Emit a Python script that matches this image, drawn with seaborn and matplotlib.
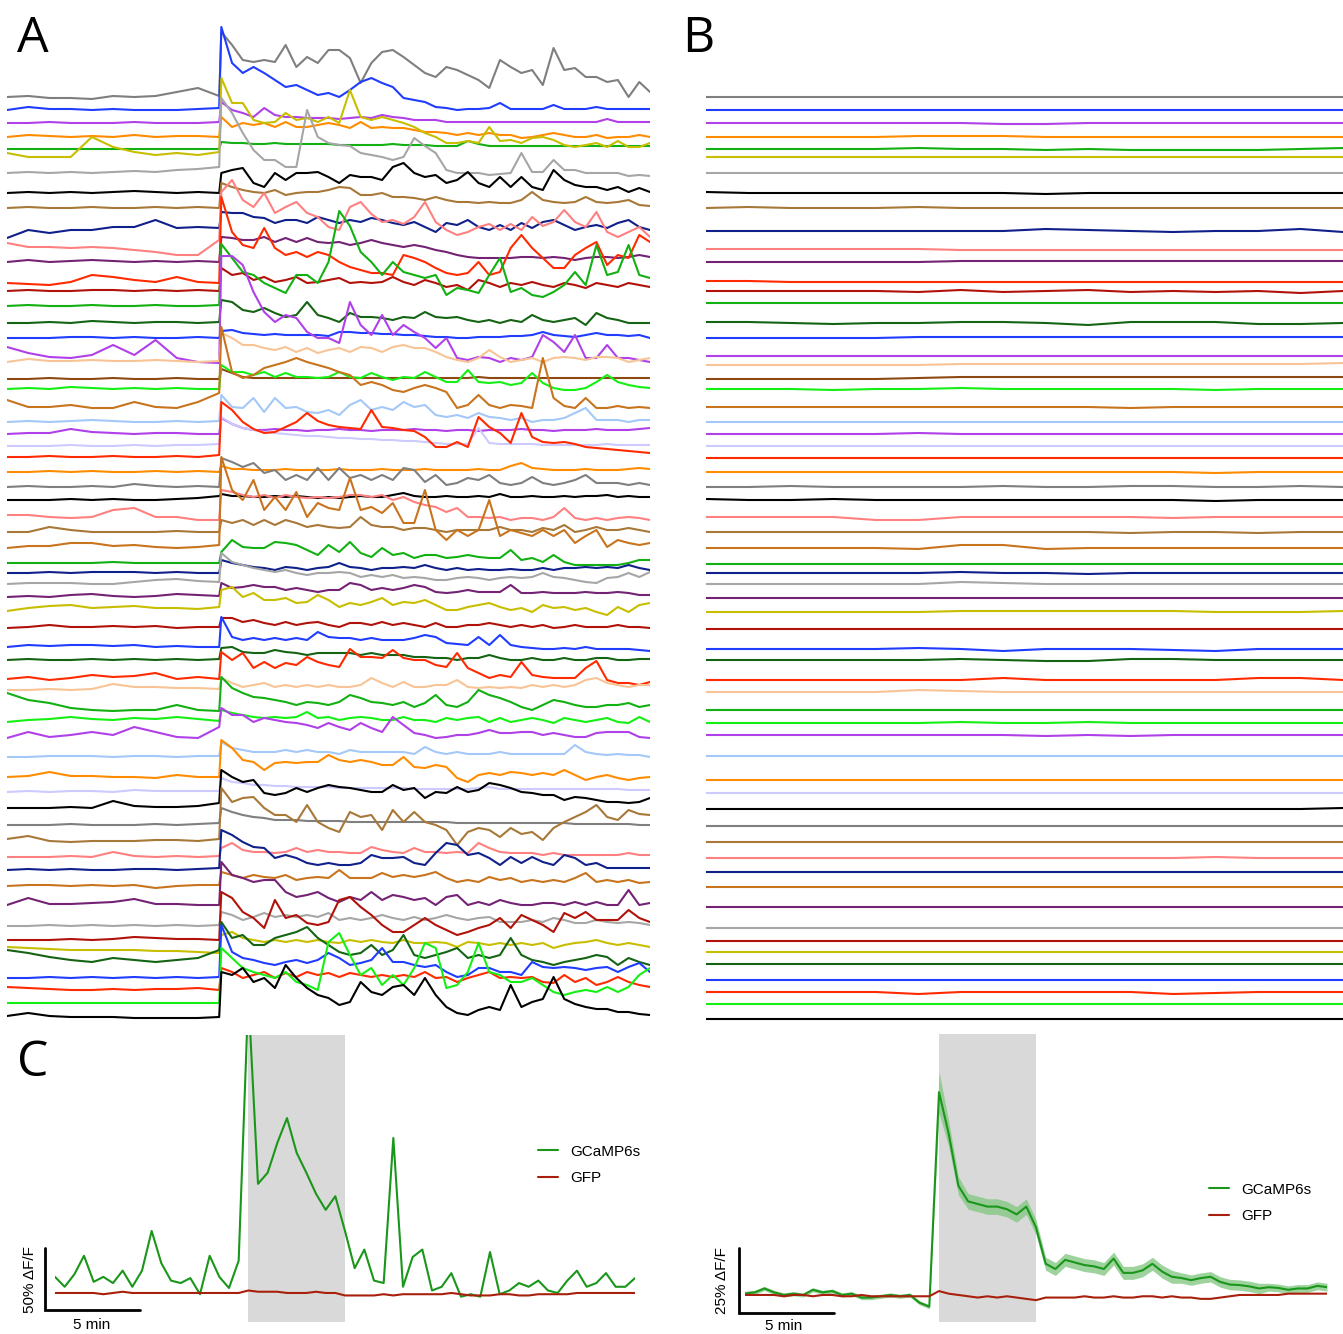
import numpy as np
import pandas as pd
import matplotlib
matplotlib.use('Agg')
import matplotlib.pyplot as plt
import seaborn as sns

sns.set_theme(style='white')
plt.rcParams['font.family'] = ['Liberation Sans', 'DejaVu Sans']
plt.rcParams['text.color'] = 'black'

# colours of the cells
color_hex = {
    'gray': '#7f7f7f', 'blue': '#1f3cff', 'purple': '#b040e8', 'orange': '#ff8c00',
    'green': '#12b012', 'olive': '#c8be00', 'lightgray': '#a6a6a6', 'black': '#000000',
    'tan': '#a87838', 'navy': '#10208a', 'salmon': '#ff8080', 'darkpurple': '#742274',
    'red': '#ff2a00', 'darkred': '#b0120a', 'darkgreen': '#146414', 'peach': '#f8c496',
    'brown': '#8c4a12', 'brightgreen': '#14f014', 'orangebrown': '#c8741e',
    'lightblue': '#a4c8f8', 'lavender': '#cccaff',
}

trace_colors = [
    'gray', 'blue', 'purple', 'orange', 'green', 'olive', 'lightgray', 'black', 'tan', 'navy',
    'salmon', 'darkpurple', 'red', 'darkred', 'green', 'darkgreen', 'blue', 'purple', 'peach', 'brown',
    'brightgreen', 'orangebrown', 'lightblue', 'purple', 'lavender', 'red', 'orange', 'gray', 'black', 'salmon',
    'tan', 'orangebrown', 'green', 'navy', 'lightgray', 'darkpurple', 'olive', 'darkred', 'blue', 'darkgreen',
    'red', 'peach', 'green', 'brightgreen', 'purple', 'lightblue', 'orange', 'lavender', 'black', 'gray',
    'tan', 'salmon', 'navy', 'orangebrown', 'darkpurple', 'lightgray', 'darkred', 'olive', 'darkgreen', 'blue',
    'red', 'brightgreen', 'black',
]

# stacking offset of each cell (same for A and B)
offsets = [928, 915, 902, 888, 876, 868, 852, 832, 817, 794, 773, 763, 741, 734, 719, 702, 687, 669,
           662, 646, 636, 617, 603, 591, 579, 568, 553, 538, 525, 505, 493, 477, 462, 452, 441, 428,
           414, 397, 378, 365, 346, 335, 314, 303, 287, 268, 247, 233, 217, 200, 183, 168, 155, 139,
           119, 99, 85, 75, 63, 47, 35, 22, 8]

# A: baseline part, 0-10 min, one value per minute
pre_dff = [
    [0, 1, -1, -1, -2, 1, 0, 1, 5, 9, 1],
    [0, 3, 1, 1, 0, 1, 0, 0, 0, 1, 2],
    [0, 0, 1, 0, 0, 0, 1, 0, 0, 0, 1],
    [0, 2, 1, 0, 1, 0, 2, 0, 1, 1, 0],
    [0, 0, 0, 0, 0, 0, 0, 0, 0, 0, 0],
    [4, 0, 0, 0, 20, 10, 5, 2, 4, 2, 5],
    [0, 1, 0, 1, 0, 1, 2, 1, 3, 4, 6],
    [0, 1, 0, 1, 0, 1, 2, 1, 0, 1, 0],
    [0, 1, 0, 0, 1, 0, 0, 1, 0, 1, 0],
    [-7, 1, -2, 1, 1, 4, 4, 11, 3, 4, 3],
    [9, 5, 5, 4, 5, 4, 2, 0, -3, -3, 12],
    [0, 2, 0, 1, 2, 1, 0, 1, 0, 1, 0],
    [1, 0, -1, 2, 9, 7, 4, 2, 7, 2, 1],
    [0, 1, 0, 0, 1, 1, 0, 1, 0, 1, 0],
    [0, 1, 0, 0, 1, 0, 0, 1, 0, 0, 1],
    [0, 0, 1, 0, 2, 1, 0, 1, 1, 0, 1],
    [0, 0, 0, 1, 1, 0, 1, 0, 0, 1, 0],
    [9, 3, -1, -2, 1, 11, 1, 16, -2, -6, -7],
    [1, 4, 2, 2, 3, 2, 2, 3, 2, 1, 2],
    [0, 0, 1, 0, 0, 1, 0, 0, 1, 0, 0],
    [0, 1, 0, 2, 1, 0, 1, 0, 1, 0, 0],
    [8, 1, 1, 3, 0, 0, 6, 1, 0, 6, 15],
    [0, 1, 0, 1, 2, 1, 0, 0, 1, 0, 1],
    [0, 1, 1, 5, 2, 1, 0, 1, 1, 0, 0],
    [0, 0, 0, 1, 0, 0, 1, 0, 1, 1, 2],
    [0, 0, 1, 0, 0, 1, 0, 0, 1, 0, 2],
    [0, 0, 1, 0, 1, 0, 0, 1, 0, 1, 0],
    [0, 1, 0, 0, 1, 0, 3, 1, 0, 1, 0],
    [0, 0, 0, 1, 0, 1, 0, 0, 1, 2, 4],
    [5, 5, 3, 2, 3, 10, 12, 3, 3, 0, 0],
    [0, 0, 5, 2, 0, 0, 0, 0, 1, 0, 0],
    [0, 2, 2, 5, 5, 2, 3, 1, 0, 1, 3],
    [0, 0, 0, 0, 0, 1, 0, 0, 0, 0, 0],
    [0, 0, 1, 0, 1, 1, 1, 0, 1, 0, 0],
    [0, 1, 1, 1, 0, 0, 2, 4, 5, 3, 2],
    [0, 1, 0, 2, 3, 1, 0, 1, 3, 2, 1],
    [0, 3, 5, 6, 3, 4, 5, 3, 3, 2, 4],
    [0, 1, 3, 1, 1, 2, 1, 2, 0, 1, 1],
    [0, 2, 1, 2, 2, 1, 2, 0, 1, 0, 0],
    [0, 1, 0, 0, 1, 0, 1, 0, 1, 0, 1],
    [0, 2, -1, 1, 4, 2, 3, 6, 0, 2, 0],
    [0, 0, 1, 0, 1, 6, 3, 3, 2, 2, 1],
    [18, 11, 8, 3, 1, 0, 1, 1, 6, 1, 0],
    [0, 2, 3, 5, 3, 2, 4, 3, 5, 3, 1],
    [0, 6, 1, 3, 6, 3, 11, 6, 1, 0, 11],
    [0, 0, 1, 1, 1, 0, 1, 1, 0, 1, 1],
    [1, 2, 6, 2, 2, 1, 1, 0, 3, 1, 1],
    [0, 1, 0, 1, 1, 0, 2, 1, 1, 1, 1],
    [0, 0, 0, 1, 0, 7, 2, 1, 1, 2, 5],
    [0, 0, 0, 1, 0, 0, 0, 1, 0, 1, 2],
    [3, 6, 1, 0, 1, 1, 1, 2, 2, 1, 3],
    [0, 0, 0, 1, 0, 5, 1, 0, 1, 0, 1],
    [0, 1, 0, 1, 0, 0, 1, 1, 0, 1, 2],
    [0, 1, 1, 0, 1, 0, 1, -2, 0, 1, 1],
    [1, 8, 2, 2, 3, 4, 7, 2, 2, 1, 1],
    [0, 0, 1, 0, 1, 0, 1, 0, 1, 0, 1],
    [0, 0, 0, 1, 0, 1, 3, 2, 1, 1, 0],
    [3, 2, 1, 0, 0, 0, 0, -1, -1, -2, -3],
    [12, 9, 5, 2, 0, 4, 2, 0, 2, 4, 12],
    [0, 0, 1, 0, 1, 0, 1, 0, 1, 0, 1],
    [3, 2, 1, 0, 0, 1, 0, 1, 1, 2, 0],
    [0, 0, 0, 0, 0, 0, 0, 0, 0, 0, 0],
    [1, 4, 1, 0, 0, 0, -1, -1, -1, -1, 0],
]

# A: response part, 10-30 min, one value per half minute
post_dff = [
    [65, 52, 37, 35, 37, 35, 52, 30, 40, 34, 47, 47, 39, 14, 34, 45, 47, 40, 32, 24, 20, 30, 27, 22, 17, 9, 37, 30, 24, 27, 12, 49, 27, 29, 20, 20, 15, 17, 0, 15, 5],
    [83, 47, 37, 43, 37, 30, 23, 25, 20, 15, 17, 13, 20, 28, 32, 27, 23, 12, 10, 8, 3, 2, 0, 1, 1, 2, 7, 1, 1, 1, 1, 5, 1, 1, 1, 3, 1, 1, 1, 1, 1],
    [21, 13, 10, 6, 15, 8, 6, 6, 5, 5, 5, 4, 5, 6, 5, 8, 6, 5, 3, 3, 3, 1, 1, 1, 1, 1, 1, 1, 1, 1, 1, 1, 1, 1, 1, 1, 4, 1, 1, 1, 1],
    [20, 10, 14, 12, 14, 10, 15, 10, 10, 12, 14, 12, 9, 15, 9, 10, 9, 9, 7, 5, 5, 4, 2, 4, 2, 4, 2, 2, -1, 0, 2, 4, 2, 0, 0, 2, -1, 0, 0, 2, 0],
    [7, 6, 6, 5, 5, 6, 5, 5, 5, 5, 5, 4, 4, 4, 4, 4, 5, 4, 4, 4, 3, 3, 3, 8, 5, 3, 3, 3, 3, 3, 3, 3, 3, 3, 3, 3, 3, 3, 3, 3, 3],
    [79, 54, 54, 37, 34, 35, 44, 37, 39, 35, 40, 34, 67, 40, 37, 40, 37, 34, 30, 24, 20, 14, 14, 16, 14, 30, 16, 17, 14, 19, 20, 17, 12, 10, 12, 14, 10, 16, 10, 10, 14],
    [75, 60, 40, 23, 13, 13, 6, 6, 63, 36, 30, 28, 27, 20, 18, 16, 13, 16, 35, 27, 20, 3, 0, 0, 0, -2, -1, 0, 20, 1, 1, 13, 3, 3, 0, 0, 0, 0, -3, -2, -3],
    [20, 23, 25, 10, 6, 20, 13, 20, 20, 21, 16, 10, 18, 16, 16, 13, 26, 30, 20, 16, 18, 10, 13, 21, 10, 6, 16, 6, 16, 6, 3, 23, 13, 8, 6, 6, 3, 6, 1, 5, 1],
    [25, 21, 18, 16, 15, 18, 13, 15, 16, 16, 18, 21, 20, 13, 13, 15, 11, 11, 10, 8, 11, 8, 6, 6, 5, 6, 5, 5, 8, 16, 8, 6, 5, 6, 11, 6, 5, 6, 8, 3, 2],
    [19, 18, 18, 14, 13, 8, 11, 11, 8, 14, 11, 8, 11, 9, 13, 11, 8, 6, 9, 4, -1, 8, 6, 11, 4, 1, 6, 1, 8, 3, 9, 11, 6, 1, 4, 6, 3, 8, 11, 4, 1],
    [60, 72, 52, 45, 59, 39, 45, 50, 39, 35, 25, 22, 45, 50, 38, 30, 32, 28, 35, 50, 30, 22, 17, 20, 25, 28, 22, 28, 22, 35, 26, 30, 42, 30, 25, 40, 20, 15, 20, 25, 15],
    [25, 24, 22, 22, 25, 20, 24, 20, 24, 20, 19, 20, 17, 19, 22, 19, 17, 15, 17, 15, 12, 10, 7, 5, 4, 4, 4, 4, 5, 5, 4, 5, 4, 2, 4, 5, 5, 4, 5, 7, 5],
    [87, 52, 39, 36, 56, 36, 29, 32, 27, 32, 29, 22, 17, 14, 11, 11, 9, 29, 26, 22, 16, 11, 9, 11, 22, 9, 12, 36, 49, 36, 26, 16, 16, 29, 36, 42, 19, 29, 26, 49, 42],
    [23, 16, 18, 11, 14, 9, 11, 14, 8, 9, 11, 13, 8, 9, 8, 9, 14, 9, 6, 11, 8, 4, 6, 1, 11, 8, 4, 8, 6, 9, 6, 4, 8, 6, 3, 8, 6, 4, 8, 6, 4],
    [62, 48, 34, 31, 23, 18, 13, 31, 31, 23, 44, 95, 80, 54, 44, 31, 44, 34, 31, 28, 31, 11, 18, 16, 13, 31, 48, 14, 18, 11, 9, 14, 21, 34, 21, 61, 31, 34, 61, 31, 28],
    [23, 21, 13, 11, 15, 10, 6, 8, 21, 8, 5, 1, 10, 6, 6, 5, 3, 6, 5, 11, 6, 5, 6, 3, 1, 3, 0, 3, 1, 8, 3, 1, 3, 5, -2, 10, 5, 3, 0, 0, 0],
    [7, 8, 5, 4, 3, 4, 3, 3, 3, 3, 2, 6, 6, 5, 5, 4, 4, 3, 3, 2, 1, 1, 0, 0, 1, 1, 1, 2, 2, 3, 6, 3, 2, 1, 3, 5, 3, 3, 2, 3, 0],
    [100, 100, 91, 64, 44, 34, 41, 38, 24, 18, 18, 13, 54, 31, 21, 41, 21, 31, 24, 18, 8, 18, -2, -4, -1, -2, -6, -2, -4, -1, 21, 14, 4, 21, -2, -2, 11, -2, -2, -4, -6],
    [30, 25, 18, 18, 15, 13, 16, 11, 15, 10, 13, 15, 11, 16, 15, 11, 16, 18, 15, 15, 11, 6, 3, 1, 5, 13, 6, 1, 3, 5, 1, 5, 6, 5, 3, 6, 6, 5, 1, 3, 5],
    [10, 6, 2, 1, 1, 1, 1, 1, 1, 1, 1, 1, 1, 1, 1, 1, 1, 1, 1, 1, 1, 1, 1, 1, 2, 1, 1, 1, 1, 1, 1, 1, 1, 1, 1, 1, 1, 1, 1, 1, 1],
    [24, 17, 17, 14, 17, 12, 16, 12, 12, 11, 12, 17, 12, 11, 16, 12, 9, 12, 11, 17, 12, 7, 7, 19, 7, 6, 7, 4, 6, 16, 6, 1, -1, -1, 1, 7, 14, 7, 4, 2, 1],
    [81, 36, 30, 33, 40, 43, 46, 50, 46, 43, 40, 36, 33, 23, 26, 23, 18, 16, 20, 23, 20, 16, 0, 3, 13, 3, 0, 3, 2, 0, 50, 10, 2, 0, 10, 0, 0, 2, 0, 1, 0],
    [27, 15, 14, 24, 10, 24, 14, 15, 10, 9, 12, 7, 17, 22, 12, 15, 12, 20, 15, 17, 7, 5, 7, 4, 9, 5, 4, 2, 4, 0, 2, 2, 4, 9, 14, 2, 2, 2, 0, 2, 2],
    [16, 10, 6, 4, 4, 5, 4, 4, 3, 4, 4, 5, 4, 4, 3, 4, 4, 4, 5, 4, 4, 3, 4, 4, 3, 4, 4, 4, 5, 4, 4, 3, 4, 4, 4, 5, 4, 4, 4, 5, 6],
    [29, 22, 18, 16, 14, 13, 12, 11, 10, 10, 9, 8, 8, 7, 7, 6, 6, 5, 5, 4, 3, 2, 2, 2, 18, 3, 2, 2, 2, 2, 1, 1, 1, 1, 1, 1, 2, 1, 1, 1, 1],
    [55, 47, 35, 28, 24, 25, 30, 35, 44, 36, 32, 30, 29, 28, 47, 30, 29, 27, 26, 20, 10, 10, 15, 10, 40, 30, 24, 14, 44, 20, 15, 14, 15, 13, 10, 9, 8, 7, 6, 5, 4],
    [6, 3, 3, 2, 2, 2, 3, 2, 2, 2, 2, 3, 2, 2, 2, 3, 2, 2, 2, 3, 2, 2, 2, 2, 3, 2, 2, 6, 9, 4, 3, 2, 2, 2, 3, 2, 2, 2, 3, 4, 3],
    [29, 25, 20, 24, 14, 17, 7, 12, 7, 19, 7, 19, 9, 12, 7, 12, 7, 19, 17, 5, 12, 2, 4, 9, 7, 12, 4, 2, 4, 10, 4, 2, 4, 7, 12, 4, 4, 4, 2, 4, 2],
    [6, 4, 4, 3, 3, 4, 3, 4, 3, 2, 3, 2, 3, 4, 3, 3, 5, 7, 4, 3, 3, 4, 3, 3, 4, 3, 6, 3, 3, 4, 3, 3, 4, 3, 4, 4, 5, 3, 4, 3, 3],
    [30, 28, 25, 23, 25, 22, 25, 23, 22, 23, 22, 23, 25, 25, 23, 25, 20, 23, 18, 15, 13, 8, 12, 3, 3, 2, 3, 0, 2, 2, 0, 3, 12, 2, 0, 2, 0, 2, 3, 2, 0],
    [12, 9, 12, 7, 12, 7, 12, 9, 5, 7, 5, 4, 5, 15, 7, 5, 5, 2, 4, 4, 2, 0, 2, 2, 2, 2, 5, 2, 2, 0, 4, 2, 7, 0, 2, 5, 2, 2, 4, 2, 0],
    [91, 58, 48, 68, 38, 51, 38, 56, 31, 45, 40, 38, 70, 38, 41, 35, 45, 25, 25, 58, 18, 8, 18, 12, 18, 48, 12, 18, 15, 12, 18, 12, 18, 5, 12, 18, 1, 8, 5, 3, 5],
    [11, 23, 16, 15, 15, 21, 20, 18, 13, 8, 18, 11, 21, 10, 6, 15, 8, 10, 5, 8, 8, 5, 6, 8, 6, 5, 5, 13, 3, 5, 1, 8, 1, -2, -2, -2, -2, -2, 0, 3, 3],
    [13, 10, 8, 6, 5, 3, 6, 5, 3, 5, 6, 10, 6, 5, 3, 5, 5, 6, 5, 8, 5, 3, 5, 3, 4, 3, 3, 4, 3, 3, 5, 3, 5, 5, 6, 5, 6, 5, 8, 5, 3],
    [31, 22, 19, 16, 14, 12, 14, 11, 9, 11, 11, 12, 11, 7, 9, 7, 9, 6, 7, 6, 4, 4, 6, 7, 6, 4, 6, 7, 6, 7, 11, 7, 6, 4, 2, 1, 6, 7, 11, 7, 12],
    [14, 9, 10, 12, 10, 10, 7, 9, 7, 5, 7, 7, 14, 12, 7, 9, 7, 9, 12, 10, 5, 4, 5, 7, 5, 5, 5, 12, 4, 4, 5, 4, 4, 4, 5, 4, 4, 5, 4, 2, 2],
    [21, 24, 14, 18, 11, 11, 13, 8, 9, 16, 11, 4, 8, 6, 9, 13, 6, 9, 8, 11, 6, 1, 1, 4, 6, 8, 4, 1, 3, -1, 6, 3, 4, 1, 3, -1, -4, 4, -1, 6, 8],
    [10, 10, 6, 8, 5, 3, 6, 3, 5, 6, 3, 1, 5, 5, 3, 6, 3, 5, 3, 1, 5, 1, 1, 3, 3, 5, 3, 1, 3, 1, 3, 0, 1, 3, 1, 1, 1, 3, 1, 1, 0],
    [30, 10, 7, 9, 7, 9, 7, 9, 7, 15, 10, 9, 9, 7, 9, 7, 7, 7, 9, 12, 10, 4, 3, 2, 10, 2, 12, 2, 0, -1, -2, -2, -1, -2, 0, -2, -2, -2, -2, -3, -4],
    [12, 13, 8, 7, 7, 10, 8, 7, 5, 7, 7, 7, 7, 5, 7, 5, 5, 5, 3, 3, 2, 2, 0, 2, 2, 5, 2, 0, 0, 2, 0, 0, 2, 0, 0, 2, 2, 0, 0, 1, 1],
    [27, 19, 26, 11, 17, 11, 16, 14, 22, 17, 14, 12, 30, 22, 22, 21, 29, 21, 19, 19, 14, 12, 26, 11, 6, 1, 4, 2, 17, 4, 2, 1, 1, 1, 11, 18, -1, -4, -4, -6, -3],
    [12, 7, 3, 5, 7, 3, 5, 3, 5, 3, 5, 3, 3, 5, 12, 7, 3, 8, 3, 3, 5, 5, 10, 3, 2, 3, 2, 3, 2, 5, 3, 5, 3, 5, 10, 12, 7, 5, 3, 5, 5],
    [34, 23, 18, 14, 13, 11, 9, 6, 9, 8, 6, 9, 16, 13, 9, 8, 6, 9, 4, 8, 16, 6, 4, 9, 21, 16, 13, 9, 4, 1, 6, 11, 9, 6, 4, 4, 6, 6, 8, 4, 6],
    [12, 9, 7, 5, 4, 5, 4, 5, 10, 4, 5, 2, 4, 5, 4, 2, 2, 5, 2, 2, 0, 4, 2, 4, 5, 0, 4, 0, 2, 4, 2, -1, 4, 2, 0, 2, 4, 0, -1, 5, 0],
    [30, 23, 23, 16, 20, 18, 16, 15, 13, 10, 15, 11, 8, 15, 10, 6, 21, 13, 5, 3, 0, 1, 3, 3, 5, 8, 5, 5, 6, 6, 3, 5, 3, 1, 1, 5, 6, 6, 6, 1, 0],
    [15, 9, 7, 5, 5, 5, 7, 5, 7, 5, 5, 3, 7, 5, 5, 5, 5, 5, 3, 10, 5, 3, 5, 3, 3, 3, 5, 3, 3, 3, 3, 3, 3, 12, 5, 3, 2, 3, 2, 2, 0],
    [38, 30, 18, 16, 8, 15, 16, 15, 16, 16, 23, 18, 16, 18, 16, 13, 13, 21, 11, 10, 13, 11, 0, -4, 3, 5, 3, 6, 5, 3, 5, 3, 8, 3, -2, 1, 3, 0, -2, 0, 1],
    [14, 10, 9, 7, 7, 6, 6, 5, 5, 5, 5, 4, 4, 4, 4, 4, 4, 4, 3, 3, 3, 3, 3, 3, 4, 5, 3, 3, 3, 3, 3, 3, 3, 3, 3, 3, 3, 3, 2, 2, 2],
    [38, 31, 26, 28, 15, 13, 15, 20, 16, 20, 23, 21, 20, 18, 16, 16, 23, 18, 20, 10, 16, 15, 21, 16, 18, 25, 23, 20, 16, 15, 13, 13, 8, 11, 10, 8, 6, 6, 5, 6, 10],
    [17, 13, 10, 8, 7, 5, 5, 5, 4, 4, 4, 4, 3, 3, 3, 3, 3, 3, 3, 3, 3, 3, 2, 2, 2, 2, 2, 2, 2, 2, 2, 2, 2, 1, 1, 1, 1, 1, 1, 0, 0],
    [54, 40, 44, 45, 34, 27, 27, 20, 37, 20, 14, 10, 30, 25, 27, 12, 32, 20, 30, 20, 17, 12, -3, 10, 14, 12, 5, 14, 8, 10, 2, 14, 20, 25, 30, 37, 25, 22, 32, 28, 27],
    [9, 14, 7, 5, 5, 4, 5, 9, 5, 7, 5, 5, 4, 4, 10, 7, 5, 4, 9, 5, 5, 4, 5, 4, 14, 9, 5, 4, 4, 4, 2, 4, 2, 2, 2, 2, 2, 2, 4, 2, 2],
    [40, 35, 28, 23, 22, 12, 15, 12, 7, 5, 7, 5, 5, 7, 15, 12, 12, 13, 7, 5, 17, 27, 25, 15, 17, 12, 5, 13, 7, 13, 8, 5, 15, 12, 5, 7, 2, 2, 2, 2, 2],
    [14, 11, 8, 11, 9, 8, 11, 6, 8, 9, 8, 16, 8, 8, 8, 13, 9, 11, 9, 11, 14, 8, 4, 6, 4, 9, 6, 8, 4, 6, 4, 6, 4, 8, 13, 4, 6, 4, 6, 3, 4],
    [44, 31, 28, 24, 26, 26, 14, 9, 11, 14, 8, 4, 9, 6, 14, 6, 11, 9, 6, 8, 1, 9, 11, 1, 4, 1, 6, 3, 1, 1, 3, 3, 1, 4, 1, 4, 1, 1, 16, 1, 3],
    [14, 11, 6, 9, 13, 9, 11, 9, 11, 9, 13, 6, 8, 6, 8, 11, 8, 6, 9, 6, 8, 11, 8, 6, 8, 9, 4, 4, 4, 6, 4, 8, 6, 3, 3, 6, 4, 3, 4, 3, 1],
    [48, 42, 28, 22, 12, 40, 22, 25, 17, 15, 18, 40, 43, 33, 25, 15, 8, 8, 15, 22, 15, 10, 5, 8, 12, 15, 22, 12, 25, 20, 15, 8, 27, 22, 28, 20, 20, 20, 30, 22, 18],
    [15, 18, 12, 10, 8, 10, 8, 10, 8, 10, 8, 7, 10, 8, 10, 8, 7, 10, 7, 7, 8, 7, 3, 8, 7, 5, 7, 5, 7, 5, 7, 2, 5, 7, 8, 10, 7, 5, 7, 5, 3],
    [40, 24, 27, 17, 17, 24, 27, 30, 35, 24, 17, 10, 7, 9, 17, 7, 12, 27, 7, 4, 7, 10, 14, 4, 7, 4, 7, 24, 7, 2, 0, -3, 0, 2, 4, 7, 5, -3, 4, 0, -3],
    [53, 26, 20, 18, 15, 13, 16, 18, 15, 18, 25, 20, 13, 15, 18, 30, 16, 16, 13, 11, 13, 6, 1, 3, 10, 10, 6, 6, 3, 16, 11, 10, 11, 10, 8, 10, 11, 6, 11, 15, 6],
    [22, 18, 12, 15, 18, 12, 17, 13, 18, 15, 17, 13, 17, 15, 13, 15, 13, 15, 13, 18, 12, 13, 8, 12, 15, 18, 12, 13, 12, 13, 8, 7, 15, 8, 12, 5, 8, 13, 8, 5, 3],
    [55, 45, 35, 31, 28, 25, 31, 21, 18, 13, 61, 70, 48, 28, 35, 18, 28, 18, 35, 60, 55, 15, 18, 31, 60, 31, 28, 21, 21, 25, 18, 11, 8, 11, 13, 11, 16, 11, 16, 28, 35],
    [45, 42, 49, 35, 39, 29, 52, 39, 29, 22, 19, 12, 15, 35, 25, 22, 30, 32, 22, 39, 22, 10, 4, 2, 7, 10, 7, 32, 10, 15, 18, 40, 18, 13, 10, 8, 8, 5, 5, 3, 2],
]

# B: same cells, control, one value every 2 min over 0-30 min
ctrl_dff = [
    [0, 0, 0, 0, 0, 0, 0, 0, 0, 0, 0, 0, 0, 0, 0, 0],
    [0, 0, 0, 0, 0, 0, 0, 0, 0, 0, 0, 0, 0, 0, 0, 0],
    [0, 0, 0, 0, 0, 0, 0, -1, -1, 0, 0, 0, 0, 0, 0, 0],
    [0, 0, 0, 0, 0, 1, 1, 1, 0, 0, 0, 0, 0, 0, 0, 0],
    [0, 0, 0, 0, 0, 1, 0, 0, -1, 0, -1, -1, -1, -1, 0, 1],
    [0, 0, 0, 0, 0, 0, 0, 0, 0, 0, 0, 0, 0, 0, 0, 0],
    [0, 0, 0, 0, 0, 0, 0, 0, 0, 0, 0, 0, 0, 0, 0, 0],
    [1, 0, 0, 0, 0, 0, 0, 0, -1, 0, 0, 0, 0, 0, 0, 0],
    [0, 1, 0, 0, 0, 1, 0, 0, 0, 0, 0, 0, 0, 0, 0, 0],
    [0, 0, 0, 0, 0, 0, 0, 0, 2, 1, 0, -1, 0, 0, 2, -1],
    [3, 3, 3, 3, 3, 3, 2, 2, 2, 2, 2, 2, 2, 2, 2, 2],
    [0, 0, 0, 0, 0, 0, 1, 1, 1, 1, 1, 1, 1, 1, 1, 1],
    [3, 3, 2, 2, 2, 2, 2, 2, 2, 2, 2, 2, 2, 2, 2, 2],
    [0, 0, 0, 0, 0, -1, 1, -1, 0, 1, -1, 0, -1, 0, -2, 0],
    [3, 3, 3, 3, 3, 3, 3, 3, 3, 3, 3, 3, 3, 3, 3, 3],
    [1, 1, 0, -1, 0, 0, 1, 1, 0, -2, 1, 1, 1, -1, -1, 0],
    [0, 0, 0, 0, 0, 1, 1, 1, 1, 1, 1, 1, 1, 1, 1, 1],
    [0, 0, 0, 0, 0, 0, 0, 0, 0, 0, 0, 0, 0, 0, 0, 0],
    [-2, -2, -2, -2, -2, -2, -1, -1, -1, -1, -1, -1, -1, -1, -1, 0],
    [0, 0, 0, 0, 0, 1, 2, 2, 2, 2, 2, 2, 2, 2, 2, 2],
    [0, 0, 0, -1, 0, 0, 1, 0, 0, 0, 0, 0, -1, 0, 0, 0],
    [1, 1, 1, 1, 1, 1, 1, 1, 1, 1, 0, 1, 1, 1, 1, 1],
    [0, 0, 0, 0, 0, 0, 0, 0, 0, 0, 0, 0, 0, 0, 0, 0],
    [0, 0, 0, 0, 0, 1, 0, 0, 0, 0, 0, 0, 0, 0, 0, 0],
    [0, 0, 0, 0, 0, 0, 0, 0, 0, 0, 0, 0, 0, 0, 0, 0],
    [-1, -1, -1, -1, -1, -1, -1, -1, -1, -1, -1, -1, -1, -1, -1, -1],
    [0, 0, 0, 0, 0, 0, 0, 0, 0, 0, 0, 0, -1, 0, 0, 0],
    [0, 0, 1, 0, 0, 0, 0, 1, 0, 0, 1, 1, 0, 0, 1, 0],
    [1, 0, 0, 1, 0, 0, 0, 0, 0, 0, 0, 0, -1, 0, 0, 0],
    [3, 3, 3, 3, 0, 0, 3, 3, 3, 3, 3, 2, 3, 3, 3, 3],
    [0, 0, 0, 0, 0, 0, 0, 0, 0, 0, -1, 0, 0, -1, 0, 0],
    [0, 0, 0, 0, 0, -1, 3, 3, -1, 0, 0, 0, 0, 0, 0, 0],
    [-1, -1, -1, -1, -1, -1, -1, -1, -1, -1, -1, -1, -1, -1, -1, -1],
    [0, 0, 0, 0, 0, 0, 1, 0, 0, -1, 0, 0, 0, 0, 0, 0],
    [0, 0, 0, 0, 0, 0, 2, 1, 0, 0, 0, 0, 0, 0, 0, 0],
    [-1, -1, -1, -1, -1, -1, -1, -1, -1, -1, -1, -1, -1, -1, -1, -1],
    [-1, -1, -1, -1, -1, -1, 0, 0, 0, 0, 0, 0, -1, -1, -1, 0],
    [-1, -1, -1, -1, -1, -1, -1, -1, -1, -1, -1, -1, -1, -1, -1, -1],
    [-2, -2, -2, -2, -2, -1, -2, -4, -2, -2, -2, -3, -4, -2, -2, -2],
    [0, 0, 0, 0, 0, 0, 1, 0, -1, -1, 1, 1, 0, 0, 0, 0],
    [-1, -1, -1, -1, -1, -1, -1, 1, -1, -1, -1, -1, -1, 1, 1, -1],
    [-2, -2, -2, -2, -2, 0, -1, -2, -2, -2, -2, -2, -2, -2, -2, -2],
    [1, 1, 1, 1, 1, 1, 1, 1, 1, 1, 1, 1, 1, 1, 1, 1],
    [-1, -1, -1, -1, -1, -1, 0, -1, -1, 0, -1, -1, -1, -1, -1, -1],
    [3, 3, 3, 3, 3, 3, 3, 3, 2, 3, 2, 3, 3, 3, 3, 3],
    [1, 1, 1, 1, 1, 1, 1, 1, 1, 1, 1, 1, 1, 1, 1, 1],
    [-2, -2, -2, -2, -2, -2, -2, -2, -2, -2, -2, -2, -2, -2, -2, -2],
    [-1, -1, -1, -1, -1, -1, -1, -1, -1, -1, -1, -1, -1, -1, -1, -1],
    [-1, -1, -1, -1, -1, -1, -1, -1, -1, -1, -1, -1, -1, -1, -1, 0],
    [-1, -1, -1, -1, -1, -1, -1, -1, -1, -1, -1, -1, -1, -1, -1, -1],
    [0, 0, 0, 0, 0, 0, 0, 0, 0, 0, 0, 0, 0, 0, 0, 0],
    [-1, -1, -1, -1, -1, -1, -1, -1, -1, -1, -1, -1, 0, -1, -1, -1],
    [-2, -2, -2, -2, -2, -2, -2, -2, -2, -2, -2, -2, -2, -2, -2, -2],
    [-1, -1, -1, -1, -1, -1, -1, -1, -1, -1, -1, -1, -1, -1, -1, -1],
    [-1, -1, -1, -1, -1, -1, -1, -1, -1, -1, -1, -1, -1, -1, -1, -1],
    [-2, -2, -2, -2, -2, -2, -2, -2, -2, -2, -2, -2, -2, -2, -2, -2],
    [-1, -1, -1, -1, -1, -1, -1, -1, -1, -1, -1, -1, -1, -1, -1, -1],
    [-2, -2, -2, -2, -2, -2, -2, -2, -2, -2, -2, -2, -2, -2, -2, -2],
    [-2, -2, -2, -2, -2, -2, -2, -2, -2, -2, -2, -2, -2, -2, -2, -2],
    [-2, -2, -2, -2, -2, -2, -2, -2, -2, -2, -2, -2, -2, -2, -2, -2],
    [-2, -2, -2, -2, -2, -4, -2, -2, -2, -2, -2, -4, -3, -2, -2, -2],
    [-1, -1, -1, -1, -1, -1, -1, -1, -1, -1, -1, -1, -1, -1, -1, -1],
    [-2, -2, -2, -2, -2, -2, -2, -2, -2, -2, -2, -2, -2, -2, -2, -2],
]

# C: single cell (left) and mean +- sem (right), % dF/F every half minute
single_gcamp = [13, 5, 15, 30, 9, 13, 8, 18, 5, 18, 50, 24, 10, 8, 12, -1, 30, 13, 4, 26,
                240, 88, 97, 121, 141, 113, 97, 80, 67, 78, 50, 20, 35, 10, 8, 125, 5, 29, 35, 2, 5,
                16, -3, -1, -3, 33, -1, 2, 8, 5, 10, 2, 0, 10, 18, 5, 8, 16, 5, 5, 12]
single_gfp = [0, 0, 0, 0, 0, -1, 0, 1, 0, 0, 0, 0, 0, 0, 0, 0, 0, 0, 0, 0,
              2, 1, 1, 1, 0, 0, 0, 1, 0, 0, -2, -2, -2, -2, -1, -2, -1, -1, -1, -1,
              -1, 0, -1, -2, -2, -2, -1, -1, -2, -2, -1, -1, -1, -1, 0, 0, 0, 0, 0, 0, 0]
mean_gcamp = [0.6, 1, 2.5, 1, 0, 0.5, 0, 2, 1, 1.5, 0, 0.5, -1, -1, -0.5, 0, -0.5, 0, -3, -4.5,
              78, 62, 42, 36, 35, 34, 34, 33, 31, 34, 26, 12, 10, 13.5, 12.5, 11.5, 11, 10, 14, 8.5, 8.5,
              9.5, 12, 9, 7, 6.5, 5.7, 6.5, 7, 5, 4, 3.8, 3.3, 2.5, 3, 2.7, 2, 2.5, 2.5, 3.5, 3]
sem_gcamp = [0.8, 0.8, 0.8, 0.8, 0.8, 0.8, 0.8, 0.8, 0.8, 0.8, 0.8, 0.8, 0.8, 0.8, 0.8, 0.8, 0.8, 0.8, 0.8, 0.8,
             8, 5, 3.5, 3, 3, 3, 3, 3, 3, 3, 3, 2.5, 2.5, 2.5, 2.5, 2.5, 2.5, 2.5, 2.5, 2.5, 2.5,
             2.5, 2.5, 2.5, 2.5, 2, 2, 2, 2, 2, 2, 2, 2, 2, 1.5, 1.5, 1.5, 1.5, 1.5, 1.5, 1.5]
mean_gfp = [0, 0, 0, 0, -0.5, 0, 0, -0.5, 0, 0, -0.5, -0.5, 0, -0.5, -0.5, -0.5, -0.5, -0.5, -0.5, -0.5,
            1.5, 0.5, 0, -0.5, -1, -0.5, -1, -0.5, -1, -1.5, -2, -1, -1, -1, -1, -0.5, -1, -1, -0.5, -1,
            -1, -0.5, -0.5, -1, -0.5, -1, -1, -1.5, -1.5, -1, -0.5, 0, 0, 0, 0, 0, 0.5, 0.5, 0.5, 0.5, 0.5]

stim_on, stim_off = 10, 15

# long tables for seaborn
frames_a, frames_b = [], []
for i, off in enumerate(offsets):
    t = np.concatenate([np.linspace(0, 9.9, len(pre_dff[i])), np.linspace(10, 30, len(post_dff[i]))])
    y = off + np.concatenate([pre_dff[i], post_dff[i]])
    frames_a.append(pd.DataFrame({'cell': i, 't': t, 'y': y}))
    tb = np.linspace(0, 30, len(ctrl_dff[i]))
    frames_b.append(pd.DataFrame({'cell': i, 't': tb, 'y': off + np.array(ctrl_dff[i])}))
df_a = pd.concat(frames_a, ignore_index=True)
df_b = pd.concat(frames_b, ignore_index=True)
pal = {i: color_hex[c] for i, c in enumerate(trace_colors)}

W, H = 1343, 1334
fig = plt.figure(figsize=(W / 100, H / 100), dpi=100)

def px_axes(x0, y0, x1, y1):
    return fig.add_axes([x0 / W, 1 - y1 / H, (x1 - x0) / W, (y1 - y0) / H])

ax_a = px_axes(7, 20, 650, 1025)
ax_b = px_axes(706, 20, 1343, 1025)
for ax, df in [(ax_a, df_a), (ax_b, df_b)]:
    sns.lineplot(data=df, x='t', y='y', hue='cell', palette=pal, legend=False,
                 estimator=None, linewidth=1.5, ax=ax)
    ax.set_xlim(0, 30)
    ax.set_ylim(0, 1005)
    ax.axis('off')

t_c = np.linspace(0, 30, len(single_gcamp))
green, red = '#1a961a', '#a8200c'

# C left: single cell
ax_c1 = px_axes(55, 1035, 635, 1322)
ax_c1.axvspan(stim_on, stim_off, color='#d9d9d9', lw=0)
sns.lineplot(x=t_c, y=single_gcamp, color=green, linewidth=1.5, ax=ax_c1, label='GCaMP6s')
sns.lineplot(x=t_c, y=single_gfp, color=red, linewidth=1.5, ax=ax_c1, label='GFP')
ax_c1.set_xlim(0, 30)
ax_c1.set_ylim(-23.4, 208)

# C right: average
ax_c2 = px_axes(745, 1034, 1327, 1322)
ax_c2.axvspan(stim_on, stim_off, color='#d9d9d9', lw=0)
lo = np.array(mean_gcamp) - np.array(sem_gcamp)
hi = np.array(mean_gcamp) + np.array(sem_gcamp)
ax_c2.fill_between(t_c, lo, hi, color='#86c886', alpha=0.8, lw=0)
sns.lineplot(x=t_c, y=mean_gcamp, color=green, linewidth=1.5, ax=ax_c2, label='GCaMP6s')
sns.lineplot(x=t_c, y=mean_gfp, color=red, linewidth=1.5, ax=ax_c2, label='GFP')
ax_c2.set_xlim(0, 30)
ax_c2.set_ylim(-10.4, 100.4)

for ax, x0, y0, ybar, xlab, ylab_y, txt, tx, ty, anchor in [
        (ax_c1, -0.52, -13.7, 50, 1.9, 11, '50% ΔF/F', -1.3, -25.8, (524, 1131)),
        (ax_c2, -0.31, -6.9, 25, 2.0, 5.6, '25% ΔF/F', -1.2, -11.9, (1195, 1169))]:
    ax.plot([x0, x0, x0 + 4.9], [y0 + ybar, y0, y0], color='black', lw=2, clip_on=False,
            solid_joinstyle='miter')
    ax.text(tx, ylab_y, txt, rotation=90, ha='center', va='center', fontsize=11, color='black')
    ax.text(xlab, ty, '5 min', ha='center', va='center', fontsize=11, color='black')
    leg = ax.legend(loc='upper left', bbox_to_anchor=(anchor[0] / W, 1 - anchor[1] / H),
                    bbox_transform=fig.transFigure, frameon=False, fontsize=11,
                    handlelength=1.3, handletextpad=0.8, labelspacing=0.8)
    for txt_obj in leg.get_texts():
        txt_obj.set_color('black')
    ax.axis('off')

for lab, x, y in [('A', 17, 14), ('B', 682, 14), ('C', 17, 1038)]:
    fig.text(x / W, 1 - y / H, lab, fontsize=36, family=['Open Sans', 'DejaVu Sans'],
             ha='left', va='top', color='black')

fig.savefig('out.png', dpi=100)
